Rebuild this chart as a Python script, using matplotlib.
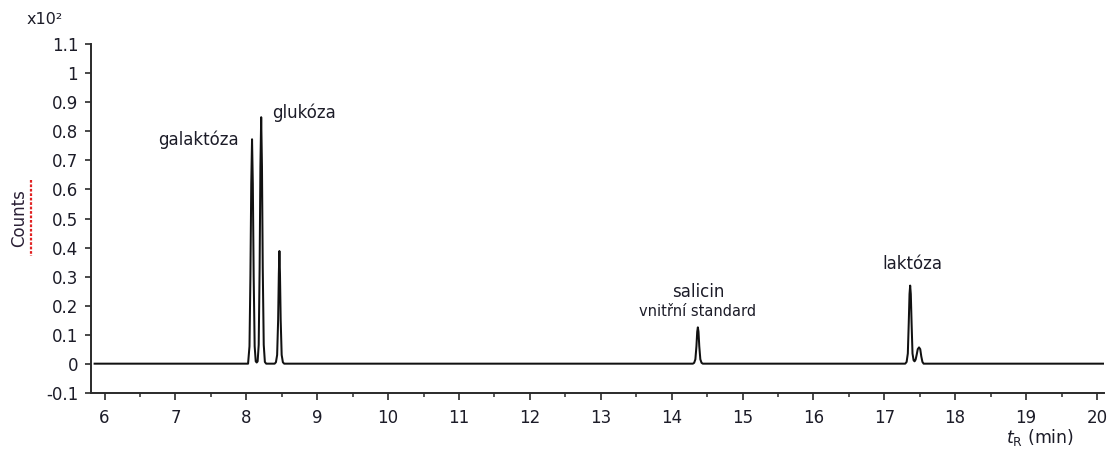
import matplotlib
matplotlib.use("Agg")
import matplotlib.pyplot as plt
from matplotlib.lines import Line2D
from matplotlib.ticker import MultipleLocator

# chromatogram trace (min, counts x10^2)
retentionTime = [
    5.86, 8.025, 8.045, 8.058, 8.070, 8.081, 8.092, 8.104, 8.118, 8.133, 8.147,
    8.160, 8.175, 8.188, 8.199, 8.210, 8.221, 8.232, 8.246, 8.262, 8.280,
    8.400, 8.418, 8.435, 8.449, 8.459, 8.467, 8.475, 8.485, 8.499, 8.516, 8.534,
    14.300, 14.318, 14.335, 14.350, 14.361, 14.370, 14.379, 14.390, 14.405, 14.422, 14.440,
    17.295, 17.315, 17.332, 17.345, 17.356, 17.365, 17.374, 17.385, 17.398, 17.413, 17.427,
    17.442, 17.458, 17.472, 17.490, 17.507, 17.522, 17.538, 17.555, 20.12,
]
counts = [
    0.0, 0.0, 0.06, 0.30, 0.62, 0.773, 0.62, 0.30, 0.06, 0.008, 0.004,
    0.008, 0.065, 0.33, 0.68, 0.849, 0.68, 0.33, 0.065, 0.006, 0.0,
    0.0, 0.005, 0.03, 0.15, 0.31, 0.388, 0.31, 0.15, 0.03, 0.005, 0.0,
    0.0, 0.003, 0.015, 0.06, 0.11, 0.125, 0.11, 0.06, 0.015, 0.003, 0.0,
    0.0, 0.006, 0.035, 0.14, 0.24, 0.269, 0.24, 0.14, 0.035, 0.012, 0.008,
    0.014, 0.032, 0.05, 0.056, 0.05, 0.025, 0.006, 0.0, 0.0,
]

# peak labels: text, anchor time, anchor counts
peakLabels = ["galaktóza", "glukóza", "salicin", "laktóza"]
peakLabelTimes = [7.90, 8.37, 14.37, 17.40]
peakLabelCounts = [0.773, 0.866, 0.248, 0.343]
peakLabelAlign = ["right", "left", "center", "center"]

xTicks = list(range(6, 21))
yTicks = [-0.1, 0, 0.1, 0.2, 0.3, 0.4, 0.5, 0.6, 0.7, 0.8, 0.9, 1, 1.1]
yTickLabels = ["-0.1", "0", "0.1", "0.2", "0.3", "0.4", "0.5", "0.6", "0.7",
               "0.8", "0.9", "1", "1.1"]

textColor = "#1c1c28"
axisColor = "#2a2a2a"

fig = plt.figure(figsize=(11.17, 4.62), dpi=100)
ax = fig.add_axes([0.0812, 0.150, 0.9072, 0.754])

ax.plot(retentionTime, counts, color="#111111", linewidth=1.45, solid_joinstyle="round")

ax.set_xlim(5.805, 20.10)
ax.set_ylim(-0.1, 1.1)
ax.set_xticks(xTicks)
ax.xaxis.set_minor_locator(MultipleLocator(0.5))
ax.set_yticks(yTicks)
ax.set_yticklabels(yTickLabels)

for side in ["top", "right"]:
    ax.spines[side].set_visible(False)
for side in ["left", "bottom"]:
    ax.spines[side].set_color(axisColor)
    ax.spines[side].set_linewidth(1.4)

ax.tick_params(axis="x", which="major", length=5, width=1.2, pad=7,
               labelsize=12, colors=axisColor, labelcolor=textColor)
ax.tick_params(axis="x", which="minor", length=3, width=1.1, colors=axisColor)
ax.tick_params(axis="y", which="major", length=4, width=1.2, pad=5,
               labelsize=12, colors=axisColor, labelcolor=textColor)

for label, t, c, ha in zip(peakLabels, peakLabelTimes, peakLabelCounts, peakLabelAlign):
    ax.text(t, c, label, ha=ha, va="center", fontsize=12, color=textColor)
ax.text(14.36, 0.178, "vnitřní standard", ha="center", va="center",
        fontsize=10.5, color=textColor)

fig.text(1040 / 1117, 1 - 437 / 462, r"$t_\mathrm{R}$ (min)", ha="center",
         va="center", fontsize=12.5, color=textColor)
fig.text(27 / 1117, 1 - 20 / 462, "x10²", ha="left", va="center",
         fontsize=11.5, color=textColor)
fig.text(19 / 1117, 1 - 218 / 462, "Counts", ha="center", va="center",
         rotation=90, fontsize=12, color="#2a1f35")
# spell-check squiggle next to the axis title
fig.add_artist(Line2D([31 / 1117, 31 / 1117], [1 - 180 / 462, 1 - 256 / 462],
                      color="#e02020", linewidth=1.6, linestyle=(0, (1.2, 0.8))))

fig.savefig("out.png", dpi=100)
